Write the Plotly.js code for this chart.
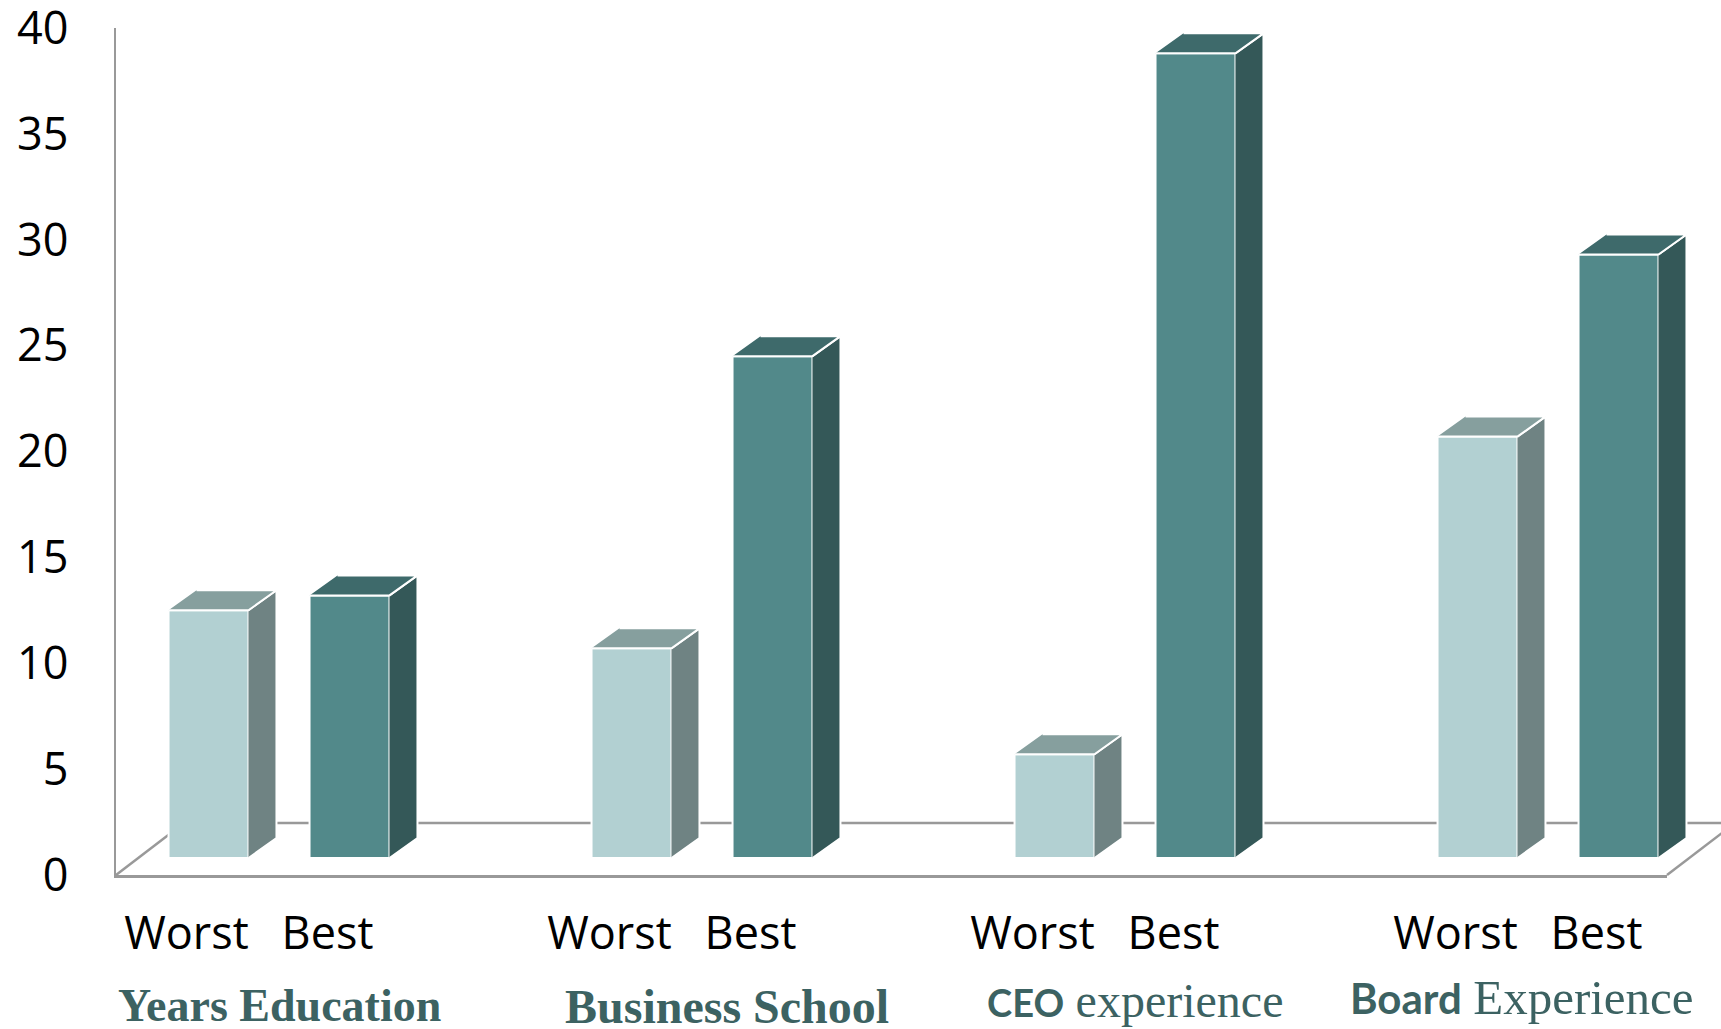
<!DOCTYPE html>
<html>
<head>
<meta charset="utf-8">
<script src="https://cdn.plot.ly/plotly-3.0.1.min.js"></script>
<style>
  html, body { margin: 0; padding: 0; background: #ffffff; }
  #chart { width: 1721px; height: 1029px; }
</style>
</head>
<body>
<div id="chart"></div>
<script>
// ---- data ----
const categories = ['Years Education', 'Business School', 'CEO experience', 'Board Experience'];
const seriesNames = ['Worst', 'Best'];
const worstValues = [11.7, 9.9, 4.9, 19.9];
const bestValues = [12.4, 23.7, 38.0, 28.5];
const yTicks = [0, 5, 10, 15, 20, 25, 30, 35, 40];

// rich-text labels under each cluster (serif with a bold sans lead word on two of them)
const groupLabels = [
  '<b>Years Education</b>',
  '<b>Business School</b>',
  '<span style="font-family:Lato;font-weight:bold;font-size:38px">CEO</span> <span style="font-size:48px">experience</span>',
  '<span style="font-family:Lato;font-weight:bold;font-size:42px">Board</span> <span style="font-size:49px">Experience</span>'
];

// ---- geometry of the pseudo-3D frame (pixels) ----
const W = 1721, H = 1029;
const front = { left: 116, right: 1667, zero: 875, top: 28 };   // front plane of the frame
const planeShift = { dx: 22, dy: 17 };                          // columns sit mid-depth
const barDepth = { dx: 28, dy: 20 };                            // visible depth of each column
const floorDepth = { dx: 68, dy: 52 };                          // depth of the floor
const xRange = [-0.5, 10.5];
const yRange = [0, 40];
const slotsPerGroup = 3;                                        // two columns + one gap slot
const barWidth = 0.567;
const labelNudgePx = [22, 47, 32, -4];
const labelCenterPx = [1005, 1006, 1000, 997];

const pxPerX = (front.right - front.left) / (xRange[1] - xRange[0]);
const pxPerY = (front.zero - front.top) / (yRange[1] - yRange[0]);
const ddx = barDepth.dx / pxPerX;
const ddy = barDepth.dy / pxPerY;

const colors = {
  Worst: { front: '#b2d0d2', side: '#6f8383', top: '#869f9e' },
  Best:  { front: '#52898a', side: '#345858', top: '#3e6a6b' }
};
const axisGrey = '#999999';
const labelTeal = '#3c6262';

const seriesValues = [worstValues, bestValues];

function positions(s) {
  return categories.map((c, g) => g * slotsPerGroup + s);
}

const traces = [];
seriesNames.forEach((name, s) => {
  const xs = positions(s);
  const vals = seriesValues[s];
  const col = colors[name];

  // front faces
  traces.push({
    type: 'bar', name: name, x: xs, y: vals, width: barWidth,
    xaxis: 'x2', yaxis: 'y2',
    marker: { color: col.front, line: { color: '#ffffff', width: 2 } },
    hovertemplate: name + ': %{y}<extra></extra>'
  });

  // side and top faces as closed parallelograms
  const sx = [], sy = [];
  const tx = [], ty = [];
  xs.forEach((u, i) => {
    const v = vals[i];
    const xl = u - barWidth / 2, xr = u + barWidth / 2;
    sx.push(xr, xr + ddx, xr + ddx, xr, null);
    sy.push(0, ddy, v + ddy, v, null);
    tx.push(xl, xr, xr + ddx, xl + ddx, null);
    ty.push(v, v, v + ddy, v + ddy, null);
  });
  traces.push({
    type: 'scatter', mode: 'lines', x: sx, y: sy, xaxis: 'x2', yaxis: 'y2',
    fill: 'toself', fillcolor: col.side, line: { color: '#ffffff', width: 2 },
    hoverinfo: 'skip', showlegend: false, cliponaxis: false
  });
  traces.push({
    type: 'scatter', mode: 'lines', x: tx, y: ty, xaxis: 'x2', yaxis: 'y2',
    fill: 'toself', fillcolor: col.top, line: { color: '#ffffff', width: 2 },
    hoverinfo: 'skip', showlegend: false, cliponaxis: false
  });
});

// floor outline behind the columns
const px = v => v / W;
const py = v => (H - v) / H;
const backY = front.zero - floorDepth.dy;
const floorLine = (x0, y0, x1, y1) => ({
  type: 'line', xref: 'paper', yref: 'paper', layer: 'below',
  x0: px(x0), y0: py(y0), x1: px(x1), y1: py(y1),
  line: { color: axisGrey, width: 2.5 }
});
const shapes = [
  floorLine(front.left + floorDepth.dx, backY, front.right + floorDepth.dx, backY),
  floorLine(front.left, front.zero, front.left + floorDepth.dx, backY),
  floorLine(front.right, front.zero, front.right + floorDepth.dx, backY)
];

const tickPos = [], tickText = [];
categories.forEach((c, g) => {
  seriesNames.forEach((n, s) => { tickPos.push(g * slotsPerGroup + s); tickText.push(n); });
});

const annotations = categories.map((c, g) => ({
  xref: 'x', yref: 'paper',
  x: g * slotsPerGroup + 0.5 + labelNudgePx[g] / pxPerX,
  y: py(labelCenterPx[g]),
  xanchor: 'center', yanchor: 'middle',
  text: groupLabels[g], showarrow: false,
  font: { family: '"Liberation Serif", "DejaVu Serif", serif', size: 46, color: labelTeal }
}));
annotations[1].font = Object.assign({}, annotations[1].font, { size: 48 });

const tickFont = { family: '"Open Sans", "Noto Sans", sans-serif', size: 45, color: '#000000' };

const layout = {
  width: W, height: H,
  margin: { l: 0, r: 0, t: 0, b: 0 },
  paper_bgcolor: '#ffffff', plot_bgcolor: 'rgba(0,0,0,0)',
  showlegend: false,
  xaxis: {
    domain: [px(front.left), px(front.right)], range: xRange,
    showgrid: false, zeroline: false, showline: true, linecolor: axisGrey, linewidth: 2.5,
    ticks: '', tickmode: 'array', tickvals: tickPos, ticktext: tickText,
    ticklabelstandoff: 17, ticklabeloverflow: 'allow',
    tickfont: tickFont, fixedrange: true
  },
  yaxis: {
    domain: [py(front.zero), py(front.top)], range: yRange,
    showgrid: false, zeroline: false, showline: true, linecolor: axisGrey, linewidth: 2.5,
    ticks: '', tickmode: 'array', tickvals: yTicks,
    ticklabelstandoff: 36, ticklabeloverflow: 'allow',
    tickfont: tickFont, fixedrange: true
  },
  // the columns live in a plane set back into the depth of the frame
  xaxis2: {
    domain: [px(front.left + planeShift.dx), px(front.right + planeShift.dx)], range: xRange,
    anchor: 'y2', visible: false, fixedrange: true
  },
  yaxis2: {
    domain: [py(front.zero - planeShift.dy), py(front.top - planeShift.dy)], range: yRange,
    anchor: 'x2', visible: false, fixedrange: true
  },
  barmode: 'overlay',
  shapes: shapes,
  annotations: annotations
};

Plotly.newPlot('chart', traces, layout, { displayModeBar: false, staticPlot: true });
</script>
</body>
</html>
